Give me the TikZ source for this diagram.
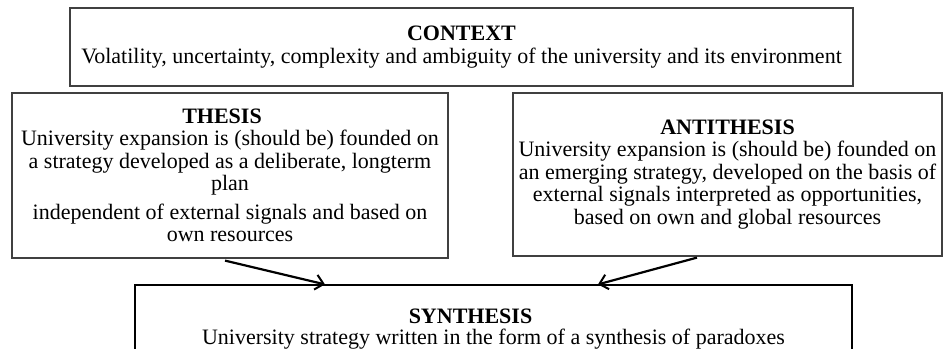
\documentclass[tikz,border=0pt]{standalone}
\usepackage{fontspec}
\setmainfont{Liberation Serif}
\usetikzlibrary{arrows.meta, positioning, calc}

\begin{document}
\begin{tikzpicture}[
    x=1pt, y=1pt,
    box/.style={rectangle, draw=black!75, line width=1.2pt, align=center, inner sep=0pt, font=\fontsize{22}{22.5}\selectfont},
    arrow/.style={-{Straight Barb[length=8pt, width=15pt, line width=2pt]}, line width=2.2pt}
]
    % Picture frame
    \clip (0,0) rectangle (944,-348);

    % Nodes
    \node[box, minimum width=783pt, minimum height=78pt] (context) at (461.5,-47) {\textbf{CONTEXT}\\ Volatility, uncertainty, complexity and ambiguity of the university and its environment};
    \node[box, minimum width=436pt, minimum height=165pt] (thesis) at (230,-175.5) {\textbf{THESIS}\hspace*{16pt}\\ University expansion is (should be) founded on\\ a strategy developed as a deliberate, longterm\hspace*{6pt}\\ plan\\[6pt] independent of external signals and based on\\ own resources};
    \node[box, minimum width=429pt, minimum height=163pt] (antithesis) at (727.5,-174.5) {\textbf{ANTITHESIS}\\ University expansion is (should be) founded on\\ an emerging strategy, developed on the basis of\\ external signals interpreted as opportunities,\\ based on own and global resources};
    \node[box, draw=black, minimum width=717pt, minimum height=88pt] (synth) at (493.5,-329) {\textbf{SYNTHESIS}\hspace*{46pt}\\[-1pt] University strategy written in the form of a synthesis of paradoxes};

    % Arrows
    \draw[arrow] ($(thesis.south)+(-5,-2)$) -- ($(synth.north)+(-168.5,0)$);
    \draw[arrow] ($(antithesis.south)+(-30.5,-1)$) -- ($(synth.north)+(104.5,0)$);

\end{tikzpicture}
\end{document}
